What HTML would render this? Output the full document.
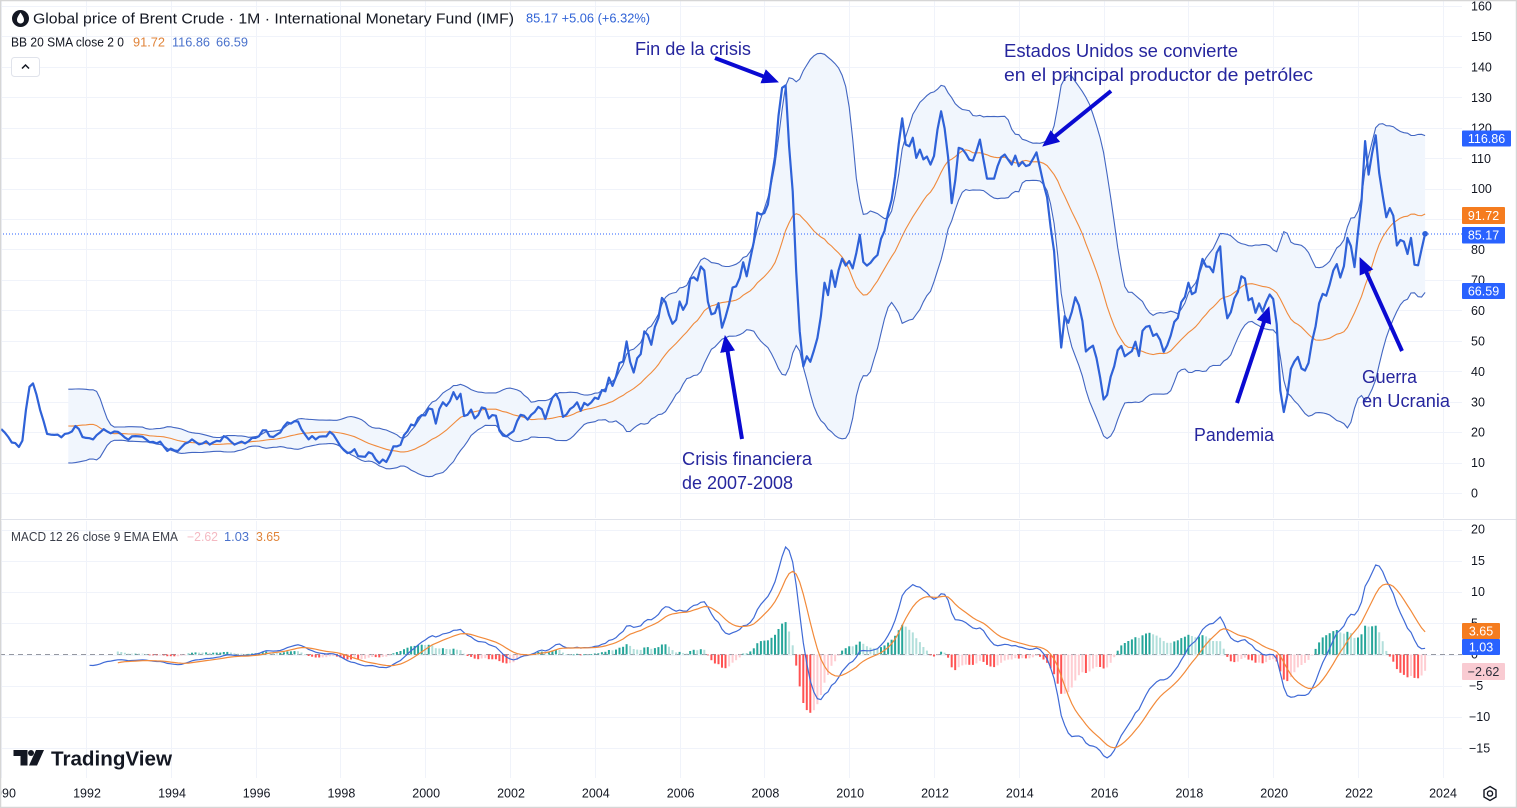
<!DOCTYPE html>
<html><head><meta charset="utf-8"><title>Brent Crude</title>
<style>html,body{margin:0;padding:0;background:#fff;}svg{display:block;}</style>
</head><body>
<svg id="s" width="1517" height="808" viewBox="0 0 1517 808" xmlns="http://www.w3.org/2000/svg" font-family="'Liberation Sans', Arial, sans-serif">
<rect width="1517" height="808" fill="#fff"/>
<g id="grid" stroke="#f0f3fa" stroke-width="1" shape-rendering="crispEdges"></g>
<line x1="0" y1="519.5" x2="1517" y2="519.5" stroke="#e0e3eb" stroke-width="1"/>
<g id="main"></g>
<line x1="0" y1="234" x2="1462" y2="234" stroke="#2962ff" stroke-width="1" stroke-dasharray="1,2"/>
<line x1="0" y1="654.5" x2="1462" y2="654.5" stroke="#9598a1" stroke-width="1" stroke-dasharray="5,4"/>
<g id="macd"></g>

<!-- header -->
<circle cx="20.5" cy="18.5" r="8.5" fill="#131722"/>
<path d="M20.5 12.5 C18 16 17 18 17 20 A3.5 3.5 0 0 0 24 20 C24 18 23 16 20.5 12.5Z" fill="#fff"/>
<text x="33" y="23.5" font-size="15" fill="#131722" textLength="481" lengthAdjust="spacingAndGlyphs">Global price of Brent Crude · 1M · International Monetary Fund (IMF)</text>
<text x="526" y="22.5" font-size="12.5" fill="#2f62d6" textLength="124" lengthAdjust="spacingAndGlyphs">85.17  +5.06 (+6.32%)</text>
<text x="11" y="46.5" font-size="12.5" fill="#131722" textLength="113" lengthAdjust="spacingAndGlyphs">BB 20 SMA close 2 0</text>
<text x="133" y="46.5" font-size="12.5" fill="#e0843a" textLength="32" lengthAdjust="spacingAndGlyphs">91.72</text>
<text x="172" y="46.5" font-size="12.5" fill="#4a72cc" textLength="38" lengthAdjust="spacingAndGlyphs">116.86</text>
<text x="216" y="46.5" font-size="12.5" fill="#4a72cc" textLength="32" lengthAdjust="spacingAndGlyphs">66.59</text>
<rect x="11.5" y="57.5" width="28" height="19" rx="3" fill="#fff" stroke="#e0e3eb"/>
<path d="M22 68.5 L25.5 65 L29 68.5" fill="none" stroke="#131722" stroke-width="1.5"/>

<text x="11" y="541" font-size="12.5" fill="#3a3e4a" textLength="167" lengthAdjust="spacingAndGlyphs">MACD 12 26 close 9 EMA EMA</text>
<text x="187" y="541" font-size="12.5" fill="#f4b9c2" textLength="31" lengthAdjust="spacingAndGlyphs">−2.62</text>
<text x="224" y="541" font-size="12.5" fill="#4a72cc" textLength="25" lengthAdjust="spacingAndGlyphs">1.03</text>
<text x="256" y="541" font-size="12.5" fill="#e0843a" textLength="24" lengthAdjust="spacingAndGlyphs">3.65</text>

<!-- price axis labels -->
<g font-size="12.5" fill="#131722">
<text x="1471" y="10.6">160</text>
<text x="1471" y="41">150</text>
<text x="1471" y="71.4">140</text>
<text x="1471" y="101.9">130</text>
<text x="1471" y="132.3">120</text>
<text x="1471" y="162.8">110</text>
<text x="1471" y="193.2">100</text>
<text x="1471" y="223.6">90</text>
<text x="1471" y="254.1">80</text>
<text x="1471" y="284.5">70</text>
<text x="1471" y="315">60</text>
<text x="1471" y="345.4">50</text>
<text x="1471" y="375.8">40</text>
<text x="1471" y="406.3">30</text>
<text x="1471" y="436.7">20</text>
<text x="1471" y="467.2">10</text>
<text x="1471" y="497.6">0</text>
<text x="1471" y="533.6">20</text>
<text x="1471" y="564.9">15</text>
<text x="1471" y="596.1">10</text>
<text x="1471" y="627.4">5</text>
<text x="1471" y="658.6">0</text>
<text x="1469" y="689.9">−5</text>
<text x="1469" y="721.1">−10</text>
<text x="1469" y="752.4">−15</text>
</g>
<!-- value boxes -->
<rect x="1462" y="130.5" width="49" height="16" rx="1" fill="#2962ff"/>
<text x="1486.5" y="143" font-size="12.5" fill="#fff" text-anchor="middle">116.86</text>
<rect x="1462" y="207" width="43" height="17" rx="1" fill="#f57c1f"/>
<text x="1483.5" y="220" font-size="12.5" fill="#fff" text-anchor="middle">91.72</text>
<rect x="1462" y="227" width="43" height="16.5" rx="1" fill="#2962ff"/>
<text x="1483.5" y="239.5" font-size="12.5" fill="#fff" text-anchor="middle">85.17</text>
<rect x="1462" y="283" width="43" height="16" rx="1" fill="#2962ff"/>
<text x="1483.5" y="295.5" font-size="12.5" fill="#fff" text-anchor="middle">66.59</text>
<rect x="1462" y="623" width="38" height="16" rx="1" fill="#f57c1f"/>
<text x="1481" y="635.5" font-size="12.5" fill="#fff" text-anchor="middle">3.65</text>
<rect x="1462" y="639" width="38" height="16" rx="1" fill="#2962ff"/>
<text x="1481" y="651.5" font-size="12.5" fill="#fff" text-anchor="middle">1.03</text>
<rect x="1462" y="663" width="43" height="17" rx="1" fill="#f9cbd2"/>
<text x="1483.5" y="676" font-size="12.5" fill="#2a2e39" text-anchor="middle">−2.62</text>

<!-- time axis -->
<g font-size="12.5" fill="#131722" text-anchor="middle">
<text x="2" y="797.5">1990</text>
<text x="87" y="797.5">1992</text>
<text x="172" y="797.5">1994</text>
<text x="256.6" y="797.5">1996</text>
<text x="341.4" y="797.5">1998</text>
<text x="426.2" y="797.5">2000</text>
<text x="511" y="797.5">2002</text>
<text x="595.8" y="797.5">2004</text>
<text x="680.6" y="797.5">2006</text>
<text x="765.4" y="797.5">2008</text>
<text x="850.2" y="797.5">2010</text>
<text x="935" y="797.5">2012</text>
<text x="1019.8" y="797.5">2014</text>
<text x="1104.6" y="797.5">2016</text>
<text x="1189.4" y="797.5">2018</text>
<text x="1274.2" y="797.5">2020</text>
<text x="1359" y="797.5">2022</text>
<text x="1443" y="797.5">2024</text>
</g>
<!-- gear -->
<polygon points="1490,786.5 1496,790 1496,797 1490,800.5 1484,797 1484,790" fill="none" stroke="#131722" stroke-width="1.4"/>
<circle cx="1490" cy="793.5" r="2.6" fill="none" stroke="#131722" stroke-width="1.4"/>

<!-- TradingView logo -->
<g fill="#131722">
<rect x="13.5" y="750" width="14" height="6"/>
<rect x="20.5" y="750" width="7" height="15.5"/>
<circle cx="31" cy="753" r="3"/>
<polygon points="36,750 44,750 37,765.5 29,765.5"/>
</g>
<text x="51" y="765.5" font-size="20" font-weight="bold" fill="#131722" textLength="121" lengthAdjust="spacingAndGlyphs">TradingView</text>

<!-- annotations -->
<defs>
<marker id="ah" markerUnits="userSpaceOnUse" markerWidth="18" markerHeight="16" refX="4" refY="7.5" orient="auto">
<path d="M0,0 L17,7.5 L0,15 Z" fill="#0a0ad2"/>
</marker>
</defs>
<g stroke="#0a0ad2" stroke-width="4" fill="none" marker-end="url(#ah)">
<line x1="715" y1="58" x2="766.8" y2="77.7"/>
<line x1="1111" y1="91" x2="1052.3" y2="138.5"/>
<line x1="742" y1="439" x2="727" y2="347.8"/>
<line x1="1237" y1="403" x2="1265.2" y2="318.4"/>
<line x1="1402" y1="351" x2="1364.9" y2="268.9"/>
</g>
<g font-size="18" fill="#26269e">
<text x="635" y="55" textLength="116" lengthAdjust="spacingAndGlyphs">Fin de la crisis</text>
<text x="1004" y="57" textLength="234" lengthAdjust="spacingAndGlyphs">Estados Unidos se convierte</text>
<text x="1004" y="81" textLength="309" lengthAdjust="spacingAndGlyphs">en el principal productor de petrólec</text>
<text x="682" y="465" textLength="130" lengthAdjust="spacingAndGlyphs">Crisis financiera</text>
<text x="682" y="489" textLength="111" lengthAdjust="spacingAndGlyphs">de 2007-2008</text>
<text x="1194" y="441" textLength="80" lengthAdjust="spacingAndGlyphs">Pandemia</text>
<text x="1362" y="383" textLength="55" lengthAdjust="spacingAndGlyphs">Guerra</text>
<text x="1362" y="407" textLength="88" lengthAdjust="spacingAndGlyphs">en Ucrania</text>
</g>

<!-- frame -->
<rect x="0.5" y="0.5" width="1516" height="807" fill="none" stroke="#d6d6d6" stroke-width="1.5"/>
</svg>
<script>
(function(){
var P=[
21.0,19.9,18.4,16.6,16.4,15.1,17.2,27.2,34.9,36.0,32.3,27.3,
23.6,19.4,19.2,19.1,19.2,18.3,19.4,19.6,20.2,22.0,21.0,18.4,
18.1,18.0,17.6,19.0,19.9,21.0,20.2,19.6,20.2,20.1,19.3,18.2,
17.5,18.6,18.7,18.6,18.5,17.6,16.7,16.8,16.3,16.9,15.3,13.8,
14.6,14.0,13.8,15.0,16.2,16.7,17.6,16.8,16.0,16.3,17.0,15.9,
16.6,17.1,17.0,18.7,18.1,16.9,15.9,16.4,16.9,16.3,17.0,18.1,
18.1,18.7,20.6,20.6,18.6,18.4,19.2,19.9,21.9,23.2,22.8,23.6,
23.5,20.9,19.2,17.6,18.7,17.6,18.5,18.6,18.6,20.1,19.2,17.3,
15.4,14.1,13.1,13.4,14.4,12.1,12.0,11.9,13.4,12.9,11.0,9.8,
11.0,10.2,12.5,15.3,15.3,15.8,19.0,20.3,22.5,22.1,24.6,25.6,
25.5,27.8,27.5,22.8,27.6,29.8,28.6,30.2,33.1,30.8,32.6,25.3,
25.7,27.4,24.5,25.6,28.1,27.8,24.5,25.6,25.4,20.5,18.9,18.6,
19.5,20.3,23.6,25.7,25.4,24.1,25.7,26.6,28.3,27.5,24.3,28.1,
31.3,32.6,30.3,25.0,25.8,27.6,28.4,29.8,27.0,29.6,28.8,29.8,
31.3,30.9,33.8,33.4,37.9,35.2,38.2,42.7,43.2,49.8,43.1,39.6,
44.3,45.6,53.1,51.9,48.7,54.6,57.5,64.1,62.7,58.5,55.6,56.9,
62.9,60.2,62.3,70.4,70.9,69.8,74.4,73.1,62.8,58.7,59.1,62.4,
54.3,57.8,62.1,67.5,67.9,70.6,75.8,71.2,77.0,82.5,92.1,91.5,
92.0,94.8,103.3,110.4,123.9,133.1,133.9,113.9,99.1,72.8,53.2,41.6,
44.9,43.1,46.8,50.9,58.1,69.1,65.0,73.1,67.7,73.2,77.0,74.7,
76.2,73.8,78.8,84.8,75.9,74.7,75.6,77.1,78.2,83.5,86.1,92.0,
96.3,104.0,114.6,123.1,114.5,113.9,116.7,110.1,112.8,109.6,110.5,107.9,
110.7,119.4,125.4,119.8,110.3,95.2,102.6,113.4,113.0,111.5,109.5,109.2,
112.3,116.1,109.5,103.3,103.3,103.3,107.4,110.3,111.2,109.5,107.9,110.8,
107.4,108.8,107.4,107.8,109.7,111.9,106.8,101.6,97.1,87.4,79.4,62.3,
47.8,58.1,55.9,59.5,64.3,61.7,56.5,46.5,47.6,48.4,44.3,38.0,
30.7,32.2,38.2,41.6,46.9,48.3,44.9,45.8,46.6,49.7,45.0,53.3,
54.6,54.9,51.6,52.3,50.3,46.4,48.5,51.7,56.2,57.5,62.7,64.4,
69.1,65.3,66.0,72.1,76.9,74.4,74.3,72.5,78.9,81.0,64.7,57.4,
59.4,63.9,66.1,71.2,70.5,63.3,64.0,59.2,62.3,59.6,62.7,65.2,
63.7,55.5,33.7,26.6,32.1,40.8,43.2,44.7,40.9,40.2,42.7,49.9,
54.8,62.3,65.4,64.8,68.5,73.1,75.2,70.8,74.5,83.8,81.1,74.2,
85.6,95.8,115.6,104.6,111.6,117.5,105.1,97.7,90.6,93.6,91.1,81.3,
83.1,82.6,78.5,83.8,75.0,74.8,80.11,85.17];
var ns='http://www.w3.org/2000/svg';
function el(tag,a,par){var e=document.createElementNS(ns,tag);for(var k in a)e.setAttribute(k,a[k]);par.appendChild(e);return e;}
function X(i){return 86+42.4*((i-24)/12);}
function Y(v){return 493-3.044*v;}
function M(v){return 654.5-6.25*v;}
var grid=document.getElementById('grid'),main=document.getElementById('main'),mac=document.getElementById('macd');
var yr,v,x,y;
for(yr=1990;yr<=2024;yr+=2){x=Math.round(86+42.4*(yr-1992))+0.5;el('line',{x1:x,x2:x,y1:0,y2:518},grid);el('line',{x1:x,x2:x,y1:521,y2:778},grid);}
for(v=0;v<=160;v+=10){y=Math.round(Y(v))+0.5;el('line',{x1:0,x2:1462,y1:y,y2:y},grid);}
for(v=-15;v<=20;v+=5){y=Math.round(M(v))+0.5;el('line',{x1:0,x2:1462,y1:y,y2:y},grid);}
function f(n){return n.toFixed(1);}
function pth(a){var s='';for(var k=0;k<a.length;k++)s+=(k?'L':'M')+f(a[k][0])+','+f(a[k][1]);return s;}
var up=[],lo=[],mid=[],i,j;
for(i=19;i<P.length;i++){var s=0;for(j=i-19;j<=i;j++)s+=P[j];var m=s/20,q=0;for(j=i-19;j<=i;j++)q+=(P[j]-m)*(P[j]-m);var sd=Math.sqrt(q/20);
mid.push([X(i),Y(m)]);up.push([X(i),Y(m+2*sd)]);lo.push([X(i),Y(m-2*sd)]);}
var fill=pth(up);for(i=lo.length-1;i>=0;i--)fill+='L'+f(lo[i][0])+','+f(lo[i][1]);fill+='Z';
el('path',{d:fill,fill:'#f1f6fd',stroke:'none'},main);
el('path',{d:pth(mid),fill:'none',stroke:'#f08a3c','stroke-width':1.1},main);
el('path',{d:pth(up),fill:'none',stroke:'#4266c2','stroke-width':1.1},main);
el('path',{d:pth(lo),fill:'none',stroke:'#4266c2','stroke-width':1.1},main);
var pr=[];for(i=0;i<P.length;i++)pr.push([X(i),Y(P[i])]);
el('path',{d:pth(pr),fill:'none',stroke:'#2f62d8','stroke-width':2.2,'stroke-linejoin':'round'},main);
el('circle',{cx:X(P.length-1),cy:Y(P[P.length-1]),r:2.8,fill:'#2f62d8'},main);
function ema(arr,len,start){var out=[],a=2/(len+1),s=0,k;for(k=0;k<arr.length;k++)out.push(null);
for(k=start;k<start+len;k++)s+=arr[k];out[start+len-1]=s/len;
for(k=start+len;k<arr.length;k++)out[k]=a*arr[k]+(1-a)*out[k-1];return out;}
var e12=ema(P,12,0),e26=ema(P,26,0),md=[];
for(i=0;i<P.length;i++)md.push(e26[i]==null?null:e12[i]-e26[i]);
var sg=ema(md,9,25),h=[];
for(i=0;i<P.length;i++)h.push(sg[i]==null?null:md[i]-sg[i]);
var z=M(0);
for(i=33;i<P.length;i++){var hv=h[i],pv=(i>33?h[i-1]:hv),c;
if(hv>=0)c=(pv<hv)?'#26a69a':'#b2dfdb';else c=(pv<hv)?'#ffcdd2':'#ff5252';
var yy=M(hv),tp=Math.min(yy,z),ht=Math.max(Math.abs(yy-z),0.8);
el('rect',{x:f(X(i)-1),y:f(tp),width:2,height:f(ht),fill:c},mac);}
var ml=[],sl=[];
for(i=25;i<P.length;i++)ml.push([X(i),M(md[i])]);
for(i=33;i<P.length;i++)sl.push([X(i),M(sg[i])]);
el('path',{d:pth(ml),fill:'none',stroke:'#3f6ad6','stroke-width':1.2},mac);
el('path',{d:pth(sl),fill:'none',stroke:'#f28a3a','stroke-width':1.2},mac);
})();
</script>
</body></html>
